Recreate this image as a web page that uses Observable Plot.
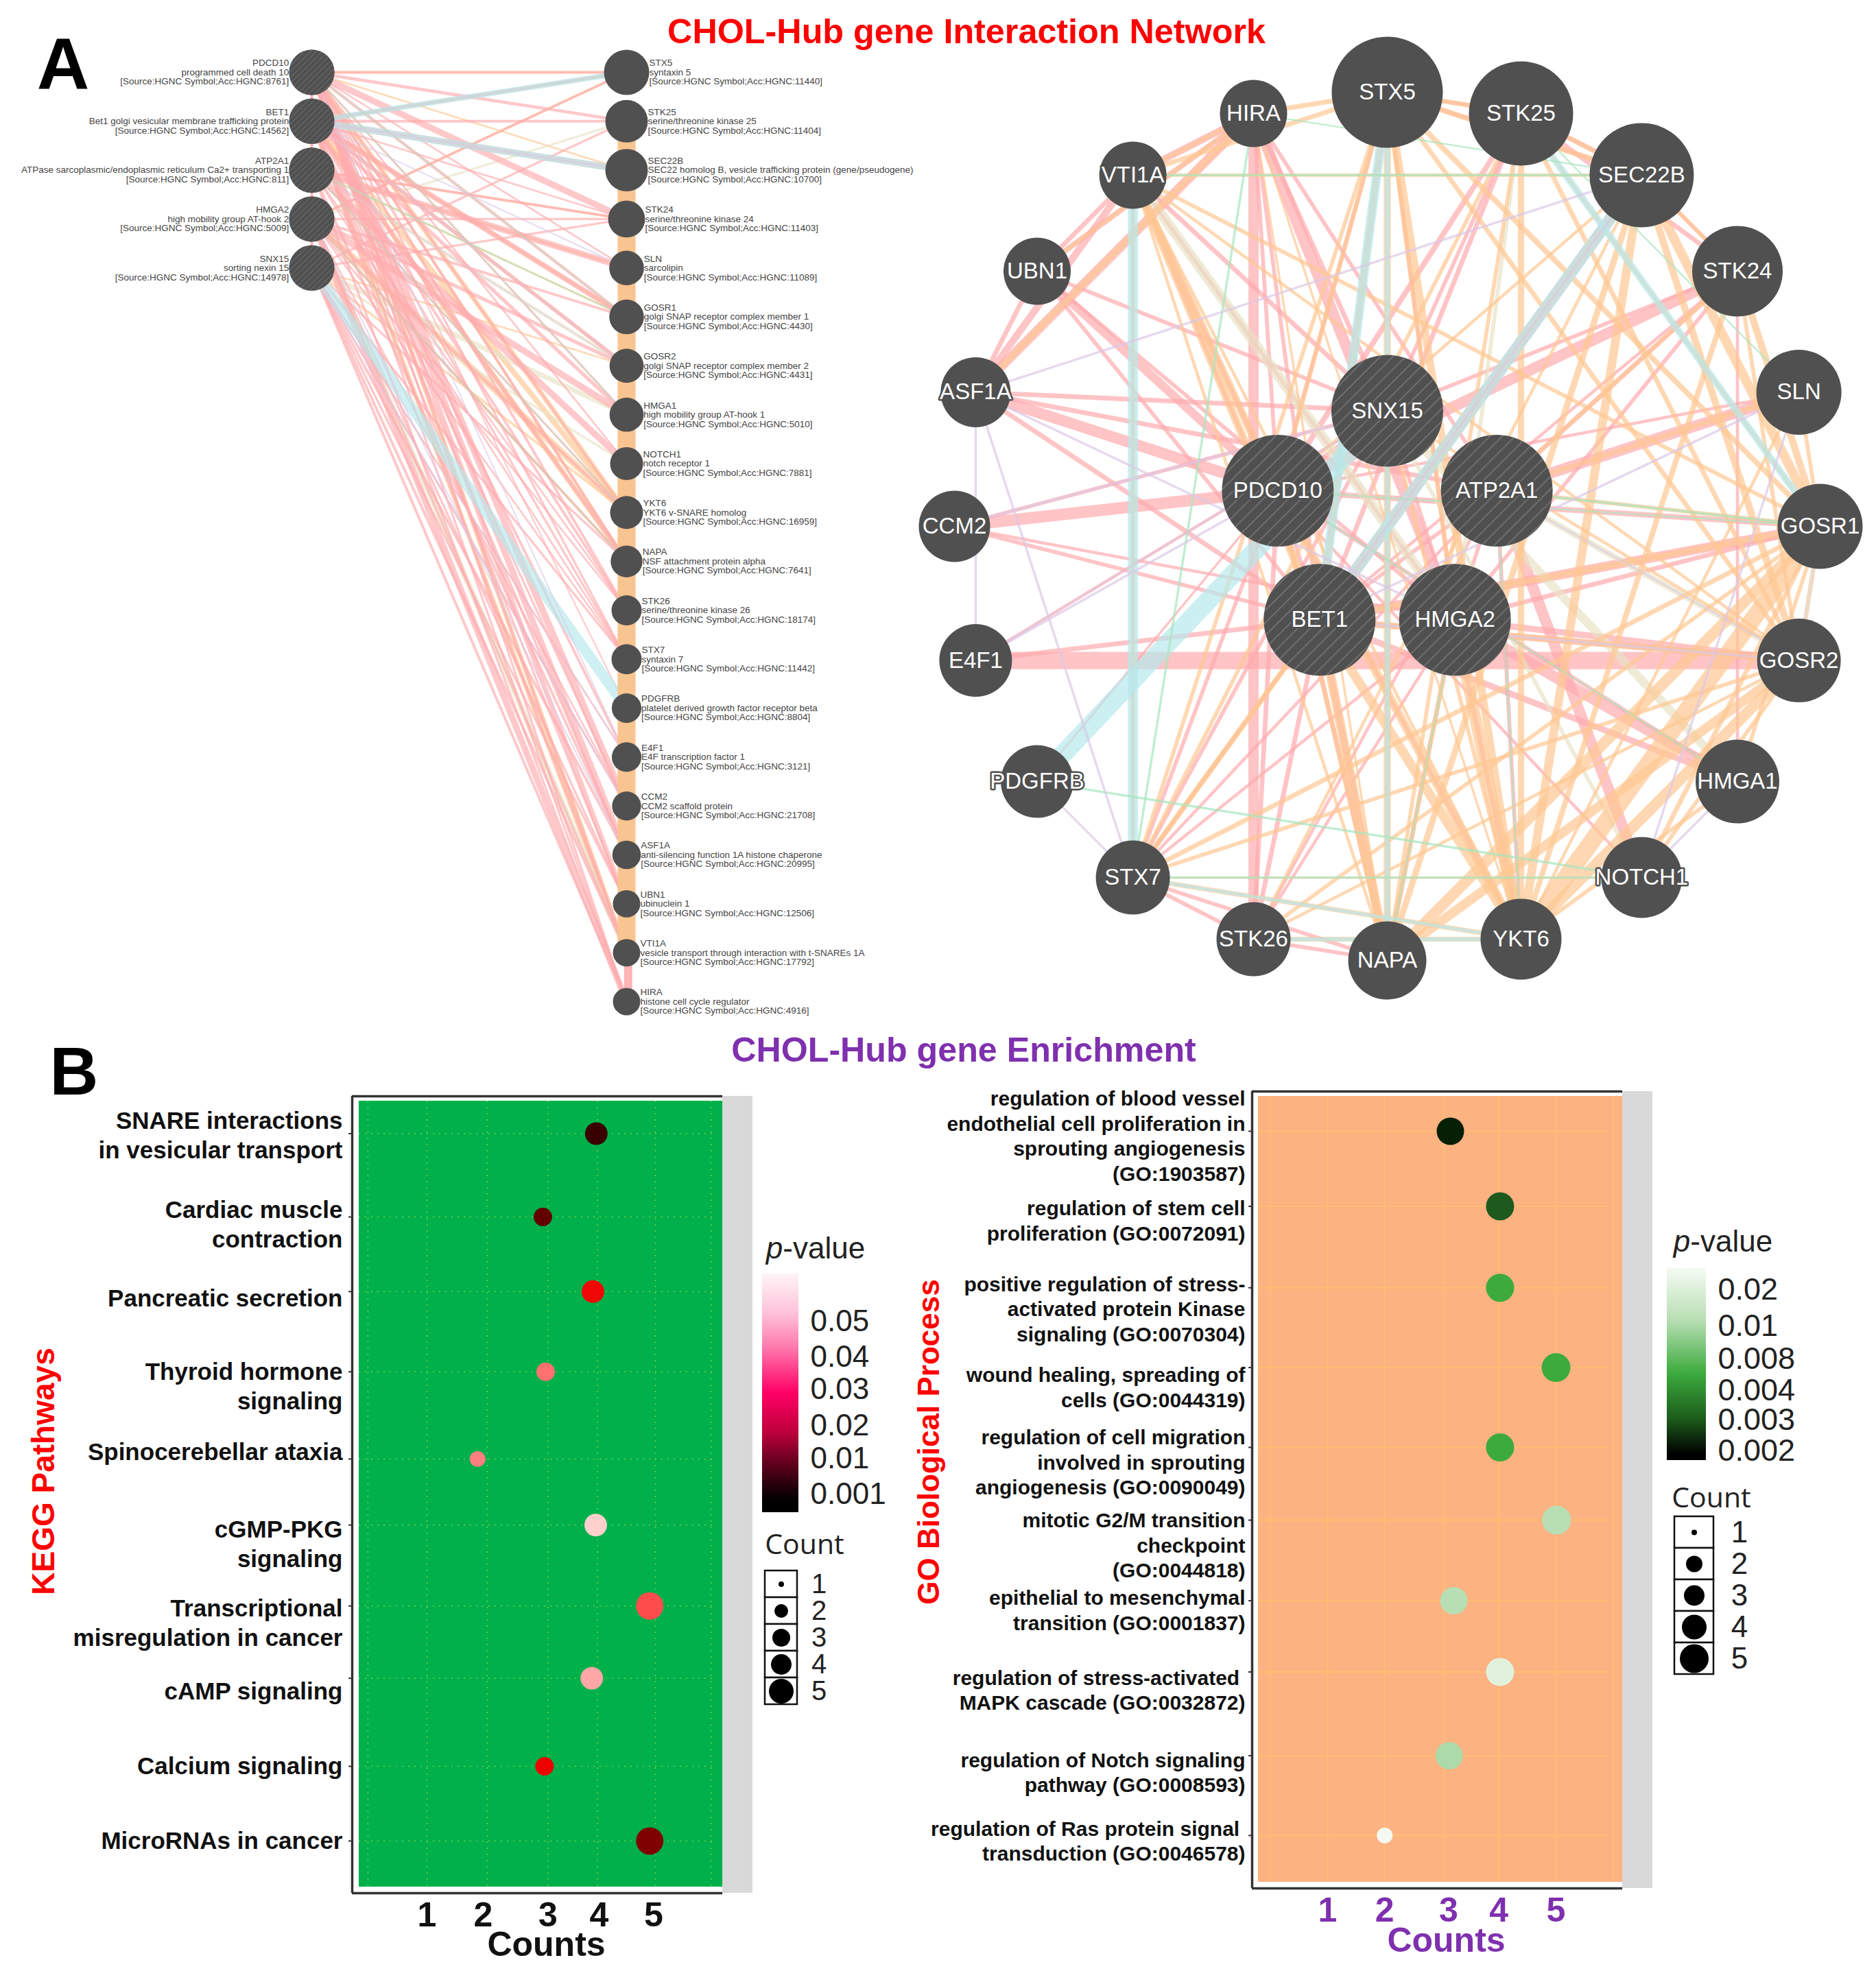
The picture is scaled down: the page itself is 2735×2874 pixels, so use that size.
<!DOCTYPE html>
<html>
<head>
<meta charset="utf-8">
<script src="https://cdn.jsdelivr.net/npm/d3@7"></script>
<script src="https://cdn.jsdelivr.net/npm/@observablehq/plot@0.6"></script>
<style>
html,body{margin:0;padding:0;background:#fff;}
#page{position:relative;width:2735px;height:2874px;overflow:hidden;font-family:"Liberation Sans",Arial,sans-serif;}
.layer{position:absolute;}
.layer svg{display:block;overflow:visible;background:transparent;max-width:none !important;}
.t{position:absolute;white-space:nowrap;transform:translate(-50%,-50%);line-height:1;}
</style>
</head>
<body>
<svg width="0" height="0" style="position:absolute">
  <defs>
    <pattern id="hatch" width="13" height="13" patternUnits="userSpaceOnUse" patternTransform="rotate(45)">
      <rect width="13" height="13" fill="#505050"></rect>
      <line x1="0" y1="0" x2="0" y2="13" stroke="#777" stroke-width="3"></line>
    </pattern>
    <pattern id="hatchSmall" width="6" height="6" patternUnits="userSpaceOnUse" patternTransform="rotate(45)">
      <rect width="6" height="6" fill="#505050"></rect>
      <line x1="0" y1="0" x2="0" y2="6" stroke="#6c6c6c" stroke-width="2"></line>
    </pattern>
    <linearGradient id="gradKegg" x1="0" y1="0" x2="0" y2="1">
      <stop offset="0" stop-color="#FFF4F8"></stop><stop offset=".16" stop-color="#FFC4DA"></stop>
      <stop offset=".3" stop-color="#FF7FB0"></stop><stop offset=".5" stop-color="#FF0066"></stop>
      <stop offset=".66" stop-color="#C0003C"></stop><stop offset=".82" stop-color="#500018"></stop>
      <stop offset=".95" stop-color="#000"></stop><stop offset="1" stop-color="#000"></stop>
    </linearGradient>
    <linearGradient id="gradGo" x1="0" y1="0" x2="0" y2="1">
      <stop offset="0" stop-color="#F6FBF4"></stop><stop offset=".28" stop-color="#B5DDB0"></stop>
      <stop offset=".55" stop-color="#3DAA3D"></stop><stop offset=".78" stop-color="#1C5E1C"></stop>
      <stop offset=".97" stop-color="#000"></stop><stop offset="1" stop-color="#000"></stop>
    </linearGradient>
  </defs>
</svg>
<div id="page"></div>
<script>
// ---------- Panel A data ----------
const hubGenes = ["SNX15","ATP2A1","HMGA2","BET1","PDCD10"];
const ringGenes = ["STX5","STK25","SEC22B","STK24","SLN","GOSR1","GOSR2","HMGA1","NOTCH1","YKT6","NAPA","STK26","STX7","PDGFRB","E4F1","CCM2","ASF1A","UBN1","VTI1A","HIRA"];
const ringScores = [81,76,76,66,62,62,61,61,59,59,57,54,54,53,53,52,51,49,49,49];
const hubColumn = ["PDCD10","BET1","ATP2A1","HMGA2","SNX15"];
const geneDescriptions = {
  PDCD10:["programmed cell death 10","8761"],BET1:["Bet1 golgi vesicular membrane trafficking protein","14562"],
  ATP2A1:["ATPase sarcoplasmic/endoplasmic reticulum Ca2+ transporting 1","811"],HMGA2:["high mobility group AT-hook 2","5009"],
  SNX15:["sorting nexin 15","14978"],STX5:["syntaxin 5","11440"],STK25:["serine/threonine kinase 25","11404"],
  SEC22B:["SEC22 homolog B, vesicle trafficking protein (gene/pseudogene)","10700"],STK24:["serine/threonine kinase 24","11403"],
  SLN:["sarcolipin","11089"],GOSR1:["golgi SNAP receptor complex member 1","4430"],GOSR2:["golgi SNAP receptor complex member 2","4431"],
  HMGA1:["high mobility group AT-hook 1","5010"],NOTCH1:["notch receptor 1","7881"],YKT6:["YKT6 v-SNARE homolog","16959"],
  NAPA:["NSF attachment protein alpha","7641"],STK26:["serine/threonine kinase 26","18174"],STX7:["syntaxin 7","11442"],
  PDGFRB:["platelet derived growth factor receptor beta","8804"],E4F1:["E4F transcription factor 1","3121"],CCM2:["CCM2 scaffold protein","21708"],
  ASF1A:["anti-silencing function 1A histone chaperone","20995"],UBN1:["ubinuclein 1","12506"],
  VTI1A:["vesicle transport through interaction with t-SNAREs 1A","17792"],HIRA:["histone cell cycle regulator","4916"]
};
const cyanEdges = [["PDGFRB","SNX15",24],["BET1","STX5",12],["BET1","SEC22B",15],["VTI1A","STX7",13],["STK25","GOSR1",9],["STK26","YKT6",5],["STX7","YKT6",4],["STX5","NAPA",6]];
const pinkEdges = [["ASF1A","PDCD10",14],["UBN1","PDCD10",11],["CCM2","PDCD10",15],["E4F1","GOSR2",22],["E4F1","BET1",6],["HIRA","HMGA2",14],["HIRA","BET1",5],["ASF1A","HIRA",12],["ASF1A","VTI1A",9],["ASF1A","UBN1",6],["UBN1","HIRA",7],["UBN1","VTI1A",6],["VTI1A","HIRA",9],["ASF1A","ATP2A1",6],["STK24","SNX15",5],["STK24","PDCD10",14],["STK24","ATP2A1",6],["SLN","ATP2A1",14],["SLN","PDCD10",4],["SEC22B","BET1",14],["STK25","PDCD10",7],["STK25","BET1",6],["STK25","SNX15",5],["STX5","BET1",8],["STX5","PDCD10",5],["STX5","HMGA2",5],["HMGA1","HMGA2",14],["HMGA1","BET1",8],["HMGA1","PDCD10",5],["GOSR1","HMGA2",6],["GOSR1","BET1",12],["GOSR1","PDCD10",7],["GOSR2","HMGA2",8],["GOSR2","BET1",8],["NOTCH1","ATP2A1",14],["NOTCH1","PDCD10",4],["YKT6","PDCD10",5],["YKT6","HMGA2",6],["NAPA","PDCD10",6],["NAPA","BET1",8],["NAPA","HMGA2",5],["STK26","BET1",6],["STK26","PDCD10",6],["STK26","HMGA2",4],["STX7","PDCD10",5],["STX7","BET1",5],["STX7","HMGA2",4],["STX7","NAPA",5],["STX7","STK26",5],["STK26","NAPA",5],["PDGFRB","PDCD10",3],["CCM2","HMGA2",4],["UBN1","BET1",5],["VTI1A","BET1",5],["VTI1A","PDCD10",6],["HIRA","PDCD10",5],["HIRA","ATP2A1",5],["STK25","STK24",6],["STK25","SEC22B",6],["STX5","STK25",5],["STX5","SEC22B",5],["SEC22B","STK24",5],["STK24","HMGA2",5],["STK24","BET1",4],["E4F1","SNX15",4],["SNX15","HIRA",6],["SNX15","VTI1A",6],["SNX15","UBN1",5],["SNX15","ASF1A",6],["SNX15","CCM2",5],["SNX15","NAPA",5],["SNX15","STX7",5],["HMGA2","VTI1A",5],["HMGA2","UBN1",5],["BET1","ASF1A",6],["BET1","CCM2",5],["ATP2A1","STX7",4],["ATP2A1","STK26",4],["ATP2A1","YKT6",5],["SNX15","PDCD10",6],["PDCD10","BET1",5],["BET1","ATP2A1",5],["ATP2A1","HMGA2",5],["HMGA2","SNX15",5],["STX7","VTI1A",4],["GOSR1","GOSR2",5],["HIRA","STK26",13],["HMGA1","STK24",4]];
const beigeEdges = [["VTI1A","HMGA2",13],["HMGA1","SNX15",11],["ATP2A1","GOSR2",8],["BET1","SEC22B",4],["STX5","BET1",6],["SNX15","NOTCH1",5],["STK25","HMGA2",5],["GOSR1","GOSR2",6]];
const orangeEdges = [["YKT6","GOSR1",22],["YKT6","GOSR2",14],["NAPA","GOSR1",14],["NAPA","GOSR2",12],["NAPA","SEC22B",8],["STX5","YKT6",10],["STX5","NAPA",9],["STX5","VTI1A",6],["STX5","STX7",5],["STX5","GOSR1",7],["STX5","GOSR2",6],["STX5","HIRA",6],["SEC22B","GOSR1",12],["SEC22B","GOSR2",9],["SEC22B","YKT6",11],["SEC22B","STX7",7],["STK25","YKT6",8],["STK25","GOSR2",6],["STK25","NAPA",5],["STK25","STX7",5],["STK24","GOSR1",9],["STK24","YKT6",7],["STK24","GOSR2",5],["SEC22B","STK24",5],["STX7","GOSR1",6],["STX7","GOSR2",5],["STX7","YKT6",6],["STX7","SEC22B",4],["VTI1A","GOSR1",5],["VTI1A","YKT6",4],["VTI1A","GOSR2",4],["VTI1A","STX7",6],["VTI1A","HIRA",5],["VTI1A","BET1",10],["VTI1A","PDCD10",10],["PDCD10","YKT6",11],["BET1","YKT6",12],["HMGA2","YKT6",15],["HMGA2","NAPA",6],["HMGA2","STX5",6],["BET1","NAPA",12],["BET1","GOSR1",8],["BET1","GOSR2",8],["BET1","STX5",6],["ATP2A1","GOSR1",5],["ATP2A1","SLN",6],["ATP2A1","STK24",5],["HIRA","ASF1A",8],["HIRA","UBN1",5],["STK26","YKT6",6],["STK26","GOSR1",5],["STK26","GOSR2",4],["STK26","SEC22B",4],["NOTCH1","GOSR1",6],["NOTCH1","GOSR2",5],["NOTCH1","STX7",3],["HMGA1","GOSR1",5],["HMGA1","YKT6",5],["SLN","GOSR1",5],["SLN","YKT6",4],["NAPA","VTI1A",4],["BET1","SEC22B",4],["STX5","SEC22B",7],["STK25","SEC22B",6],["STX5","STK25",6],["STK25","GOSR1",5],["PDCD10","NAPA",6],["STX5","PDCD10",6],["SNX15","YKT6",5],["SNX15","GOSR2",4],["PDCD10","SEC22B",4],["HIRA","YKT6",3],["HIRA","NAPA",3],["SEC22B","VTI1A",4]];
const greenEdges = [["HIRA","STX7",3],["VTI1A","SEC22B",3],["HIRA","SEC22B",2],["PDGFRB","NOTCH1",3],["STX7","NOTCH1",3],["SLN","STK25",2],["ATP2A1","GOSR1",3],["PDCD10","GOSR1",2],["HMGA2","NAPA",2],["PDCD10","HMGA1",2],["ATP2A1","YKT6",2]];
const purpleEdges = [["ASF1A","E4F1",3],["ASF1A","STX7",3],["ASF1A","SEC22B",3],["ASF1A","HMGA2",3],["CCM2","SNX15",3],["E4F1","PDCD10",3],["PDGFRB","STX7",3],["NOTCH1","HMGA1",3],["NOTCH1","SLN",3],["SLN","BET1",3],["BET1","GOSR2",3],["BET1","SEC22B",3],["ATP2A1","GOSR2",2],["SNX15","E4F1",2]];
const edgeColours = {cyan:"#B6E8EC",pink:"#FFABAE",beige:"#E8E2C6",orange:"#FFC793",green:"#A6E6BE",purple:"#DCC8E6"};

// ---------- Panel B data (KEGG) ----------
const keggTerms = [["SNARE interactions","in vesicular transport"],["Cardiac muscle","contraction"],["Pancreatic secretion"],["Thyroid hormone","signaling"],["Spinocerebellar ataxia"],["cGMP-PKG","signaling"],["Transcriptional","misregulation in cancer"],["cAMP signaling"],["Calcium signaling"],["MicroRNAs in cancer"]];
const keggLabelRows = [1.03,2.16,3.1,4.22,5.06,6.23,7.23,8.1,9.05,10];
const keggRows = [1,2.06,3.01,4.03,5.14,5.98,7.01,7.93,9.05,10];
const keggCounts = [4,3,4,3,2,4,5,4,3,5];
const keggCountsRead = [4.01,3.06,3.95,3.11,1.9,4,4.96,3.93,3.09,4.96];
const keggP = [0.005,0.008,0.021,0.037,0.04,0.05,0.03,0.045,0.02,0.01];
const keggTickRead = [1,2,3.15,4.06,5.03];
const keggGrid = [-0.05,1,2.07,3.15,4.03,5.06,6.05];
const keggColourDomain = [0.001,0.01,0.02,0.03,0.04,0.05,0.06];
const keggColourRange = ["#000000","#7F0000","#EE0000","#FF4D4D","#FF7F80","#FFD0CC","#FFF0F0"];
const keggLegendTicks = ["0.05","0.04","0.03","0.02","0.01","0.001"];
const keggLegendPos = [0.2,0.35,0.485,0.635,0.775,0.925];

// ---------- Panel B data (GO) ----------
const goTerms = [["regulation of blood vessel","endothelial cell proliferation in","sprouting angiogenesis","(GO:1903587)"],["regulation of stem cell","proliferation (GO:0072091)"],["positive regulation of stress-","activated protein Kinase","signaling (GO:0070304)"],["wound healing, spreading of","cells (GO:0044319)"],["regulation of cell migration","involved in sprouting","angiogenesis (GO:0090049)"],["mitotic G2/M transition","checkpoint","(GO:0044818)"],["epithelial to mesenchymal","transition (GO:0001837)"],["regulation of stress-activated\u00a0","MAPK cascade (GO:0032872)"],["regulation of Notch signaling","pathway (GO:0008593)"],["regulation of Ras protein signal\u00a0","transduction (GO:0046578)"]];
const goLabelRows = [1.07,2.15,3.28,4.28,5.24,6.3,7.13,8.15,9.2,10.08];
const goRows = [1,1.96,3,4.02,5.04,5.97,7,7.91,8.98,10];
const goCounts = [3,4,4,5,4,5,3,4,3,2];
const goCountsRead = [3.15,4.02,4.02,5,4.02,5.01,3.21,4.02,3.13,2];
const goP = [0.002,0.003,0.005,0.005,0.005,0.015,0.015,0.021,0.014,0.03];
const goTickRead = [1,2,3.12,4,5];
const goGrid = [-0.0,1,2,3.03,4,5,6];
const goColourDomain = [0.002,0.003,0.005,0.01,0.015,0.02,0.03];
const goColourRange = ["#062006","#1E5A1E","#3DAA3D","#7FC87F","#B8DEB4","#E0F0DC","#F4FAF2"];
const goLegendTicks = ["0.02","0.01","0.008","0.004","0.003","0.002"];
const goLegendPos = [0.11,0.3,0.47,0.637,0.79,0.95];

const countLevels = [1,2,3,4,5];
const rowLevels = [1,2,3,4,5,6,7,8,9,10];
const tickLabels = ["1","2","3","4","5"];

// ---------- page helpers ----------
const page = document.getElementById("page");
const FONT = '"Liberation Sans", Arial, sans-serif';
function layer(node,left,top){
  const d=document.createElement("div");d.className="layer";d.style.left=left+"px";d.style.top=top+"px";d.appendChild(node);page.appendChild(d);
}
function note(html,x,y,size,colour,weight,family){
  const d=document.createElement("div");d.className="t";d.innerHTML=html;
  d.style.cssText+=`left:${x}px;top:${y}px;font-size:${size}px;color:${colour};font-weight:${weight};font-family:${family||FONT};`;
  page.appendChild(d);
}
note("CHOL-Hub gene Interaction Network",1409,46,50.3,"#FF0000","bold");
note("CHOL-Hub gene Enrichment",1405,1531,50.2,"#7F30AE","bold");
note("A",92,93,106,"#000","bold");
note("B",108,1562,98,"#000","bold");

const edgeGroups = {cyan:cyanEdges,pink:pinkEdges,beige:beigeEdges,orange:orangeEdges,green:greenEdges,purple:purpleEdges};
const geneScore = new Map(ringGenes.map((g,i)=>[g,ringScores[i]]));
hubGenes.forEach(g=>geneScore.set(g,81.5));

function edgeMarks(order,where,scale,keep,opacity){
  return order.map(name=>Plot.link(edgeGroups[name].filter(keep),{
    x1:d=>where(d[0])[0],y1:d=>where(d[0])[1],x2:d=>where(d[1])[0],y2:d=>where(d[1])[1],
    stroke:edgeColours[name],strokeWidth:d=>d[2]*scale,strokeOpacity:opacity
  }));
}

// ---------- Ring network ----------
const hubFraction = 0.266;
function ringWhere(g){
  const i=ringGenes.indexOf(g);
  if(i>=0){const t=i*2*Math.PI/ringGenes.length;return [Math.sin(t),-Math.cos(t)];}
  const j=hubGenes.indexOf(g),t=j*2*Math.PI/hubGenes.length;
  return [hubFraction*Math.sin(t),-hubFraction*Math.cos(t)];
}
layer(Plot.plot({
  width:1455,height:1500,margin:0,
  x:{axis:null,domain:[-1,1],range:[111,1373]},
  y:{axis:null,domain:[-1,1],range:[134,1400]},
  r:{type:"linear",domain:[0,100],range:[0,100]},
  marks:[
    ...edgeMarks(["pink","beige","orange","cyan","green","purple"],ringWhere,1.15,()=>true,0.7),
    Plot.dot(ringGenes,{x:g=>ringWhere(g)[0],y:g=>ringWhere(g)[1],r:g=>geneScore.get(g),fill:"#505050"}),
    Plot.dot(hubGenes,{x:g=>ringWhere(g)[0],y:g=>ringWhere(g)[1],r:g=>geneScore.get(g),fill:"url(#hatch)"}),
    Plot.text([...ringGenes,...hubGenes],{x:g=>ringWhere(g)[0],y:g=>ringWhere(g)[1],text:g=>g,fill:"#fff",stroke:"#505050",strokeWidth:5,fontSize:33,fontFamily:FONT})
  ]
}),1280,0);

// ---------- Column network ----------
function colWhere(g){
  const i=hubColumn.indexOf(g);
  if(i>=0) return [0,i];
  return [1,ringGenes.indexOf(g)];
}
const colR = 33/81;
const colPxPerUnit = 459;
const colLinePx = 13.5, colRowPx = 1355/19;
const colLabelLines = g=>{const [d,a]=geneDescriptions[g];return [g,d,`[Source:HGNC Symbol;Acc:HGNC:${a}]`].map((text,k)=>({g,text,k}));};
const colLabels = (genes)=>genes.flatMap(colLabelLines);
const colY = d=>colWhere(d.g)[1]+(d.k-1)*colLinePx/colRowPx;
const touchesHub = e=>hubGenes.includes(e[0])||hubGenes.includes(e[1]);
layer(Plot.plot({
  width:1370,height:1520,margin:0,
  x:{axis:null,domain:[0,1],range:[454,913]},
  y:{axis:null,domain:[0,19],range:[105,1460]},
  r:{type:"linear",domain:[0,100],range:[0,100*colR]},
  marks:[
    ...edgeMarks(["orange","beige","pink","cyan","green","purple"],colWhere,0.66,touchesHub,0.66),
    Plot.ruleX([1.021],{y1:0.6,y2:13,stroke:"#BCE9ED",strokeWidth:6}),
    Plot.ruleX([1.02],{y1:13,y2:16,stroke:"#DCD9A8",strokeWidth:6}),
    Plot.ruleX([1],{y1:0.6,y2:18,stroke:"#F8C48F",strokeWidth:26}),
    Plot.ruleX([1.005],{y1:18,y2:19,stroke:"#FFB4B6",strokeWidth:12}),
    Plot.dot(ringGenes,{x:g=>colWhere(g)[0],y:g=>colWhere(g)[1],r:g=>geneScore.get(g),fill:"#505050"}),
    Plot.dot(hubColumn,{x:g=>colWhere(g)[0],y:g=>colWhere(g)[1],r:g=>geneScore.get(g),fill:"url(#hatchSmall)"}),
    Plot.text(colLabels(hubColumn),{x:d=>-geneScore.get(d.g)*colR/colPxPerUnit,y:colY,text:"text",textAnchor:"end",fontSize:13.5,fill:"#444",fontFamily:FONT}),
    Plot.text(colLabels(ringGenes),{x:d=>1+geneScore.get(d.g)*colR/colPxPerUnit,y:colY,text:"text",textAnchor:"start",fontSize:13.5,fill:"#444",fontFamily:FONT})
  ]
}),0,0);

// ---------- Dot panels ----------
function dotPanel(c){
  const rows=c.terms.map((t,i)=>({row:c.rows[i],count:c.counts[i],read:c.read[i],p:c.p[i]}));
  const labelLines=c.terms.flatMap((t,i)=>t.map((text,k)=>({text,row:c.labelRows[i]+(k-(t.length-1)/2)*c.labelLinePx/c.rowPx})));
  return Plot.plot({
    width:c.width,height:c.height,margin:0,
    x:{axis:null,domain:c.xDomain,range:c.xRange},
    y:{axis:null,domain:c.yDomain,range:c.yRange},
    r:{type:"linear",domain:countLevels,range:c.rRange},
    color:{type:"linear",domain:c.colourDomain,range:c.colourRange},
    marks:[
      Plot.rect([0],{x1:c.xDomain[1],x2:c.stripEnd,y1:c.yDomain[0],y2:c.yDomain[1],fill:"#D9D9D9"}),
      Plot.rect([0],{x1:c.fillStart,x2:c.xDomain[1],y1:c.fillY[0],y2:c.fillY[1],fill:c.panelFill}),
      Plot.ruleX(c.grid,{y1:c.fillY[0],y2:c.fillY[1],stroke:c.gridColour,strokeWidth:1.5,strokeOpacity:c.gridOpacity,strokeDasharray:c.gridDash}),
      Plot.ruleY(rowLevels.map(i=>c.rows[i-1]),{x1:c.fillStart,x2:c.gridEnd,stroke:c.gridColour,strokeWidth:1.5,strokeOpacity:c.gridOpacity,strokeDasharray:c.gridDash}),
      Plot.ruleX([c.xDomain[0]],{y1:c.yDomain[0],y2:c.yDomain[1],stroke:"#333",strokeWidth:3.5}),
      Plot.ruleY([c.yDomain[0],c.yDomain[1]],{x1:c.xDomain[0],x2:c.xDomain[1],stroke:"#333",strokeWidth:3.5}),
      Plot.ruleY(rows.map(d=>d.row),{x1:c.xDomain[0]-0.06,x2:c.xDomain[0],stroke:"#333",strokeWidth:2}),
      Plot.dot(rows,{x:"read",y:"row",r:"count",fill:"p"}),
      Plot.text(labelLines,{x:c.labelX,y:"row",text:"text",textAnchor:"end",fontWeight:"bold",fontSize:c.labelSize,fill:"#111",fontFamily:FONT}),
      Plot.text(tickLabels,{x:(d,i)=>c.tickRead[i],y:c.tickRow,text:d=>d,fontWeight:"bold",fontSize:50,fill:c.tickColour,fontFamily:FONT}),
      Plot.text(["Counts"],{x:c.countsX,y:c.countsRow,text:d=>d,fontWeight:"bold",fontSize:50,fill:c.tickColour,fontFamily:FONT}),
      Plot.text([c.yTitle],{x:c.titleX,y:c.titleRow,text:d=>d,rotate:-90,fontWeight:"bold",fontSize:c.titleSize,fill:"#FF0000",fontFamily:FONT})
    ]
  });
}
const toKeggX = px=>(px-622)/82+1, toKeggY = py=>(py-1652.5)/114.6+1;
layer(dotPanel({
  width:1330,height:1304,terms:keggTerms,labelRows:keggLabelRows,rows:keggRows,counts:keggCounts,read:keggCountsRead,p:keggP,
  xDomain:[toKeggX(513),toKeggX(1053)],xRange:[513,1053],yDomain:[toKeggY(1598),toKeggY(2760)],yRange:[28,1190],
  rRange:[4,11.5,13.5,16.5,20],colourDomain:keggColourDomain,colourRange:keggColourRange,
  stripEnd:toKeggX(1097),fillStart:toKeggX(523),fillY:[toKeggY(1605),toKeggY(2751)],panelFill:"#00B04A",
  grid:keggGrid,gridEnd:toKeggX(1040),gridColour:"#C8E85A",gridOpacity:0.55,gridDash:"2,7",
  labelX:toKeggX(499),labelSize:35,labelLinePx:43,rowPx:114.6,tickRead:keggTickRead,tickRow:toKeggY(2792),tickColour:"#111",
  countsX:toKeggX(796),countsRow:toKeggY(2835),yTitle:"KEGG Pathways",titleX:toKeggX(64),titleRow:toKeggY(2145),titleSize:46
}),0,1570);
const toGoX = px=>(px-1935)/83.25+1, toGoY = py=>(py-1649)/114.1+1;
layer(dotPanel({
  width:1405,height:1304,terms:goTerms,labelRows:goLabelRows,rows:goRows,counts:goCounts,read:goCountsRead,p:goP,
  xDomain:[toGoX(1825),toGoX(2365)],xRange:[495,1035],yDomain:[toGoY(1591),toGoY(2753)],yRange:[21,1183],
  rRange:[4,11.5,20,20.5,21],colourDomain:goColourDomain,colourRange:goColourRange,
  stripEnd:toGoX(2409),fillStart:toGoX(1834),fillY:[toGoY(1598),toGoY(2744)],panelFill:"#FDB282",
  grid:goGrid,gridEnd:toGoX(2345),gridColour:"#FFCF5C",gridOpacity:0.6,gridDash:null,
  labelX:toGoX(1815),labelSize:30,labelLinePx:36.4,rowPx:114.1,tickRead:goTickRead,tickRow:toGoY(2785),tickColour:"#7F30AE",
  countsX:toGoX(2108),countsRow:toGoY(2829),yTitle:"GO Biological Process",titleX:toGoX(1354),titleRow:toGoY(2102),titleSize:44
}),1330,1570);

// ---------- Legends ----------
function gradientLegend(gradient,ticks,pos,barW,barH,labelX,size){
  const rows=ticks.map((t,i)=>({t,pos:pos[i]}));
  return Plot.plot({
    width:340,height:barH+20,margin:0,
    x:{axis:null,domain:[0,1],range:[0,barW]},
    y:{axis:null,domain:[0,1],range:[0,barH]},
    marks:[
      Plot.rect([0],{x1:0,x2:1,y1:0,y2:1,fill:gradient}),
      Plot.text(rows,{x:labelX,y:"pos",text:"t",textAnchor:"start",fontSize:size,fill:"#222",fontFamily:FONT})
    ]
  });
}
function countLegend(boxW,boxH,rRange,labelDx,size){
  return Plot.plot({
    width:220,height:boxH+6,margin:0,
    x:{axis:null,type:"band",domain:["k"],range:[2,boxW+2],padding:0},
    y:{axis:null,type:"band",domain:countLevels,range:[2,boxH+2],padding:0},
    r:{type:"linear",domain:countLevels,range:rRange},
    marks:[
      Plot.cell(countLevels,{x:()=>"k",y:d=>d,fill:"#fff",stroke:"#111",strokeWidth:2.5}),
      Plot.dot(countLevels,{x:()=>"k",y:d=>d,r:d=>d,fill:"#000"}),
      Plot.text(countLevels,{x:()=>"k",y:d=>d,text:d=>String(d),dx:labelDx,fontSize:size,fill:"#222",fontFamily:FONT})
    ]
  });
}
note("<i>p</i>-value",1189,1820,44,"#222","normal");
layer(gradientLegend("url(#gradKegg)",keggLegendTicks,keggLegendPos,53,348,(1181-1111)/53,44),1111,1857);
note("Count",1173,2250,41,"#222","normal",'"Open Sans", sans-serif');
layer(countLegend(47,197,[4,10,13,15,18],55,40),1113,2287);
note("<i>p</i>-value",2512,1810,44,"#222","normal");
layer(gradientLegend("url(#gradGo)",goLegendTicks,goLegendPos,57,280,(2504-2430)/57,45),2430,1849);
note("Count",2495,2182,41,"#222","normal",'"Open Sans", sans-serif');
layer(countLegend(57,231,[4,12,15,18,21],66,44),2439,2208);
</script>
</body>
</html>
